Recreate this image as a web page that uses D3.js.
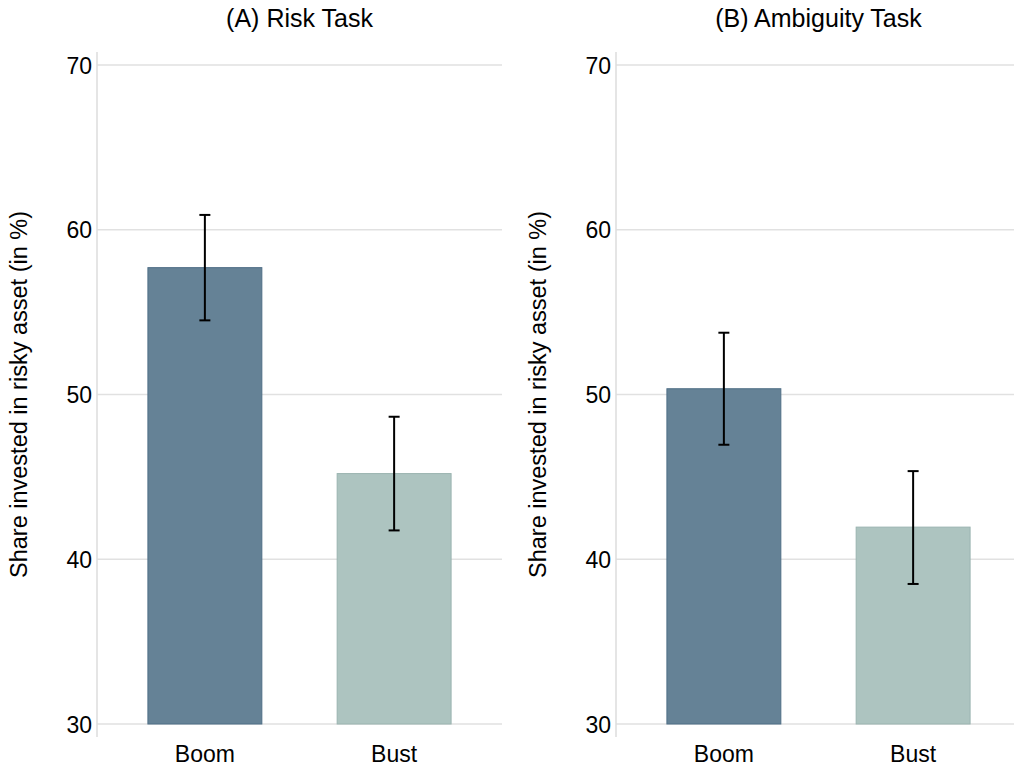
<!DOCTYPE html>
<html>
<head>
<meta charset="utf-8">
<script src="https://cdn.jsdelivr.net/npm/d3@7"></script>
<style>
  body { margin: 0; background: #fff; }
  text { font-family: "Liberation Sans", Arial, sans-serif; fill: #000; }
</style>
</head>
<body>
<div id="chart"></div>
<script>
// data
var panels = ["(A) Risk Task", "(B) Ambiguity Task"];
var categories = ["Boom", "Bust"];
var means = [[57.7, 45.2], [50.35, 41.95]];
var lower = [[54.5, 41.75], [46.95, 38.5]];
var upper = [[60.9, 48.65], [53.75, 45.35]];
var yTicks = [30, 40, 50, 60, 70];
var yTitle = "Share invested in risky asset (in %)";

var fills = ["#658296", "#adc4c0"];
var strokes = ["#4f6e86", "#9ab4b0"];

var svg = d3.select("#chart").append("svg")
    .attr("width", 1014)
    .attr("height", 769);

var panelLeft = [97, 616];
var pw = 405;

var yScale = d3.scaleLinear()
    .domain([30, 70])
    .range([724, 65]);

for (var p = 0; p < panels.length; p++) {
    var g = svg.append("g")
        .attr("transform", "translate(" + panelLeft[p] + ",0)");

    var xScale = d3.scaleBand()
        .domain(categories)
        .range([0, pw])
        .paddingInner(0.398)
        .paddingOuter(0.269);

    // gridlines
    g.selectAll(".grid")
        .data(yTicks)
        .enter().append("line")
        .attr("x1", 0)
        .attr("x2", pw)
        .attr("y1", function(d) { return yScale(d); })
        .attr("y2", function(d) { return yScale(d); })
        .attr("stroke", "#e1e1e1")
        .attr("stroke-width", 1.5);

    // y axis
    var yAxis = g.append("g")
        .call(d3.axisLeft(yScale).tickValues(yTicks).tickSize(0).tickPadding(5));
    yAxis.select(".domain").remove();
    yAxis.selectAll("text")
        .style("font-size", "23px")
        .attr("dy", "0.35em");
    g.append("line")
        .attr("x1", 0).attr("x2", 0)
        .attr("y1", 52).attr("y2", 737)
        .attr("stroke", "#dcdcdc")
        .attr("stroke-width", 1.5);

    // bars
    var rows = categories.map(function(c, i) {
        return {cat: c, mean: means[p][i], lo: lower[p][i], hi: upper[p][i], i: i};
    });

    g.selectAll(".bar")
        .data(rows)
        .enter().append("rect")
        .attr("x", function(d) { return xScale(d.cat); })
        .attr("width", xScale.bandwidth())
        .attr("y", function(d) { return yScale(d.mean); })
        .attr("height", function(d) { return yScale(30) - yScale(d.mean); })
        .attr("fill", function(d) { return fills[d.i]; })
        .attr("stroke", function(d) { return strokes[d.i]; })
        .attr("stroke-width", 1);

    // error bars
    var cx = function(d) { return xScale(d.cat) + xScale.bandwidth() / 2; };
    g.selectAll(".err")
        .data(rows)
        .enter().append("line")
        .attr("x1", cx).attr("x2", cx)
        .attr("y1", function(d) { return yScale(d.lo); })
        .attr("y2", function(d) { return yScale(d.hi); })
        .attr("stroke", "#000")
        .attr("stroke-width", 2);
    ["lo", "hi"].forEach(function(k) {
        g.selectAll(".cap" + k)
            .data(rows)
            .enter().append("line")
            .attr("x1", function(d) { return cx(d) - 5.5; })
            .attr("x2", function(d) { return cx(d) + 5.5; })
            .attr("y1", function(d) { return yScale(d[k]); })
            .attr("y2", function(d) { return yScale(d[k]); })
            .attr("stroke", "#000")
            .attr("stroke-width", 2);
    });

    // category labels
    g.selectAll(".cat")
        .data(categories)
        .enter().append("text")
        .attr("x", function(d) { return xScale(d) + xScale.bandwidth() / 2; })
        .attr("y", 762)
        .attr("text-anchor", "middle")
        .style("font-size", "23px")
        .text(function(d) { return d; });

    // panel title
    g.append("text")
        .attr("x", pw / 2)
        .attr("y", 27)
        .attr("text-anchor", "middle")
        .style("font-size", "25px")
        .text(panels[p]);

    // y title
    g.append("text")
        .attr("transform", "translate(-70," + yScale(50) + ") rotate(-90)")
        .attr("text-anchor", "middle")
        .style("font-size", "23.5px")
        .text(yTitle);
}
</script>
</body>
</html>
